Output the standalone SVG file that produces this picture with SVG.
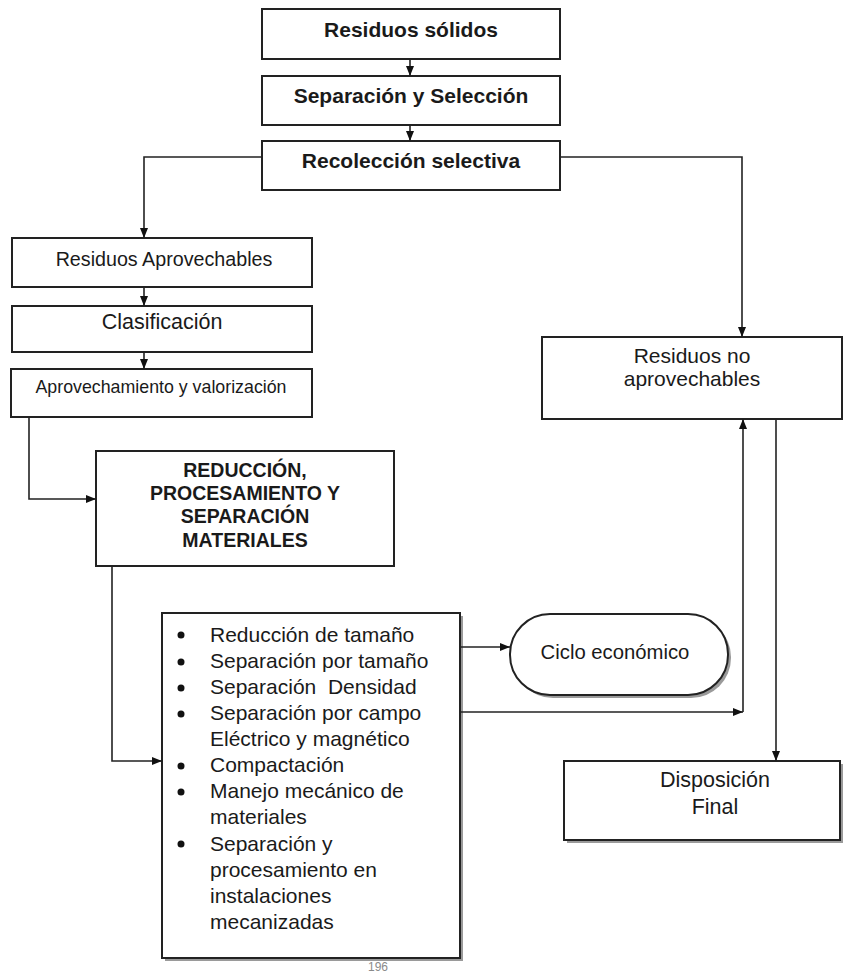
<svg xmlns="http://www.w3.org/2000/svg" width="852" height="975" viewBox="0 0 852 975">
<style>
.box{fill:#fff;stroke:#222;stroke-width:2}
.shadow{fill:#9a9a9a}
.t{font-family:"Liberation Sans",Arial,sans-serif;fill:#1a1a1a;text-anchor:middle}
.b{font-weight:bold}
.l{font-family:"Liberation Sans",Arial,sans-serif;fill:#1a1a1a;font-size:21px}
.c{fill:none;stroke:#222;stroke-width:1.6}
</style>
<defs>
<marker id="ah" markerUnits="userSpaceOnUse" markerWidth="10" markerHeight="10" refX="10" refY="5" orient="auto">
<path d="M0,1 L10,5 L0,9 z" fill="#111"/>
</marker>
</defs>
<rect width="852" height="975" fill="#fff"/>

<g id="residuos-solidos">
<rect class="box" x="262" y="9" width="298" height="50"/>
<text class="t b" x="411" y="37" font-size="21">Residuos sólidos</text>
</g>
<g id="separacion-seleccion">
<rect class="box" x="262" y="76" width="298" height="49"/>
<text class="t b" x="411" y="103" font-size="21">Separación y Selección</text>
</g>
<g id="recoleccion-selectiva">
<rect class="box" x="262" y="141" width="298" height="49"/>
<text class="t b" x="411" y="168" font-size="21">Recolección selectiva</text>
</g>
<g id="residuos-aprovechables">
<rect class="box" x="12" y="238" width="300" height="49"/>
<text class="t" x="164" y="266" font-size="19.7">Residuos Aprovechables</text>
</g>
<g id="clasificacion">
<rect class="box" x="12" y="306" width="300" height="46"/>
<text class="t" x="162" y="329" font-size="21.5">Clasificación</text>
</g>
<g id="aprovechamiento">
<rect class="box" x="11" y="369" width="301" height="48"/>
<text class="t" x="161" y="393" font-size="17.8">Aprovechamiento y valorización</text>
</g>
<g id="reduccion">
<rect class="box" x="96" y="451" width="298" height="115"/>
<text class="t b" x="245" font-size="19.5"><tspan x="245" y="477">REDUCCIÓN,</tspan><tspan x="245" y="500">PROCESAMIENTO Y</tspan><tspan x="245" y="523">SEPARACIÓN</tspan><tspan x="245" y="547">MATERIALES</tspan></text>
</g>
<g id="residuos-no-aprovechables">
<rect class="box" x="542" y="337" width="300" height="82"/>
<text class="t" x="692" font-size="21"><tspan x="692" y="363">Residuos no</tspan><tspan x="692" y="386">aprovechables</tspan></text>
</g>
<g id="procesos">
<rect class="shadow" x="165" y="616" width="298" height="345"/>
<rect class="box" x="162" y="613" width="298" height="345"/>
<g fill="#111">
<circle cx="181" cy="635" r="3.5"/>
<circle cx="181" cy="662" r="3.5"/>
<circle cx="181" cy="688" r="3.5"/>
<circle cx="181" cy="714" r="3.5"/>
<circle cx="181" cy="766" r="3.5"/>
<circle cx="181" cy="792" r="3.5"/>
<circle cx="181" cy="844" r="3.5"/>
</g>
<text class="l" x="210" y="642">Reducción de tamaño</text>
<text class="l" x="210" y="668">Separación por tamaño</text>
<text class="l" x="210" y="694" xml:space="preserve">Separación  Densidad</text>
<text class="l" x="210" y="720">Separación por campo</text>
<text class="l" x="210" y="746">Eléctrico y magnético</text>
<text class="l" x="210" y="772">Compactación</text>
<text class="l" x="210" y="798">Manejo mecánico de</text>
<text class="l" x="210" y="824">materiales</text>
<text class="l" x="210" y="851">Separación y</text>
<text class="l" x="210" y="877">procesamiento en</text>
<text class="l" x="210" y="903">instalaciones</text>
<text class="l" x="210" y="929">mecanizadas</text>
</g>
<g id="ciclo-economico">
<rect class="shadow" x="513" y="617" width="218" height="81" rx="40" ry="40"/>
<rect class="box" x="510" y="614" width="218" height="81" rx="40" ry="40"/>
<text class="t" x="615" y="659" font-size="20.3">Ciclo económico</text>
</g>
<g id="disposicion-final">
<rect class="shadow" x="567" y="764" width="276" height="79"/>
<rect class="box" x="564" y="761" width="276" height="79"/>
<text class="t" x="715" font-size="21.5"><tspan x="715" y="787">Disposición</tspan><tspan x="715" y="814">Final</tspan></text>
</g>

<g id="connectors">
<path class="c" d="M410,59 V76" marker-end="url(#ah)"/>
<path class="c" d="M410,125 V141" marker-end="url(#ah)"/>
<path class="c" d="M262,157 H144 V238" marker-end="url(#ah)"/>
<path class="c" d="M560,157 H742 V337" marker-end="url(#ah)"/>
<path class="c" d="M144,287 V306" marker-end="url(#ah)"/>
<path class="c" d="M144,352 V369" marker-end="url(#ah)"/>
<path class="c" d="M29,417 V499 H96" marker-end="url(#ah)"/>
<path class="c" d="M112,566 V761 H162" marker-end="url(#ah)"/>
<path class="c" d="M460,647 H510" marker-end="url(#ah)"/>
<path class="c" d="M460,712 H743" marker-end="url(#ah)"/>
<path class="c" d="M743,712 V419" marker-end="url(#ah)"/>
<path class="c" d="M776,419 V761" marker-end="url(#ah)"/>
</g>

<text id="page-number" x="378" y="971" font-family="'Liberation Sans',Arial,sans-serif" font-size="12" fill="#8a8a8a" text-anchor="middle">196</text>
</svg>
